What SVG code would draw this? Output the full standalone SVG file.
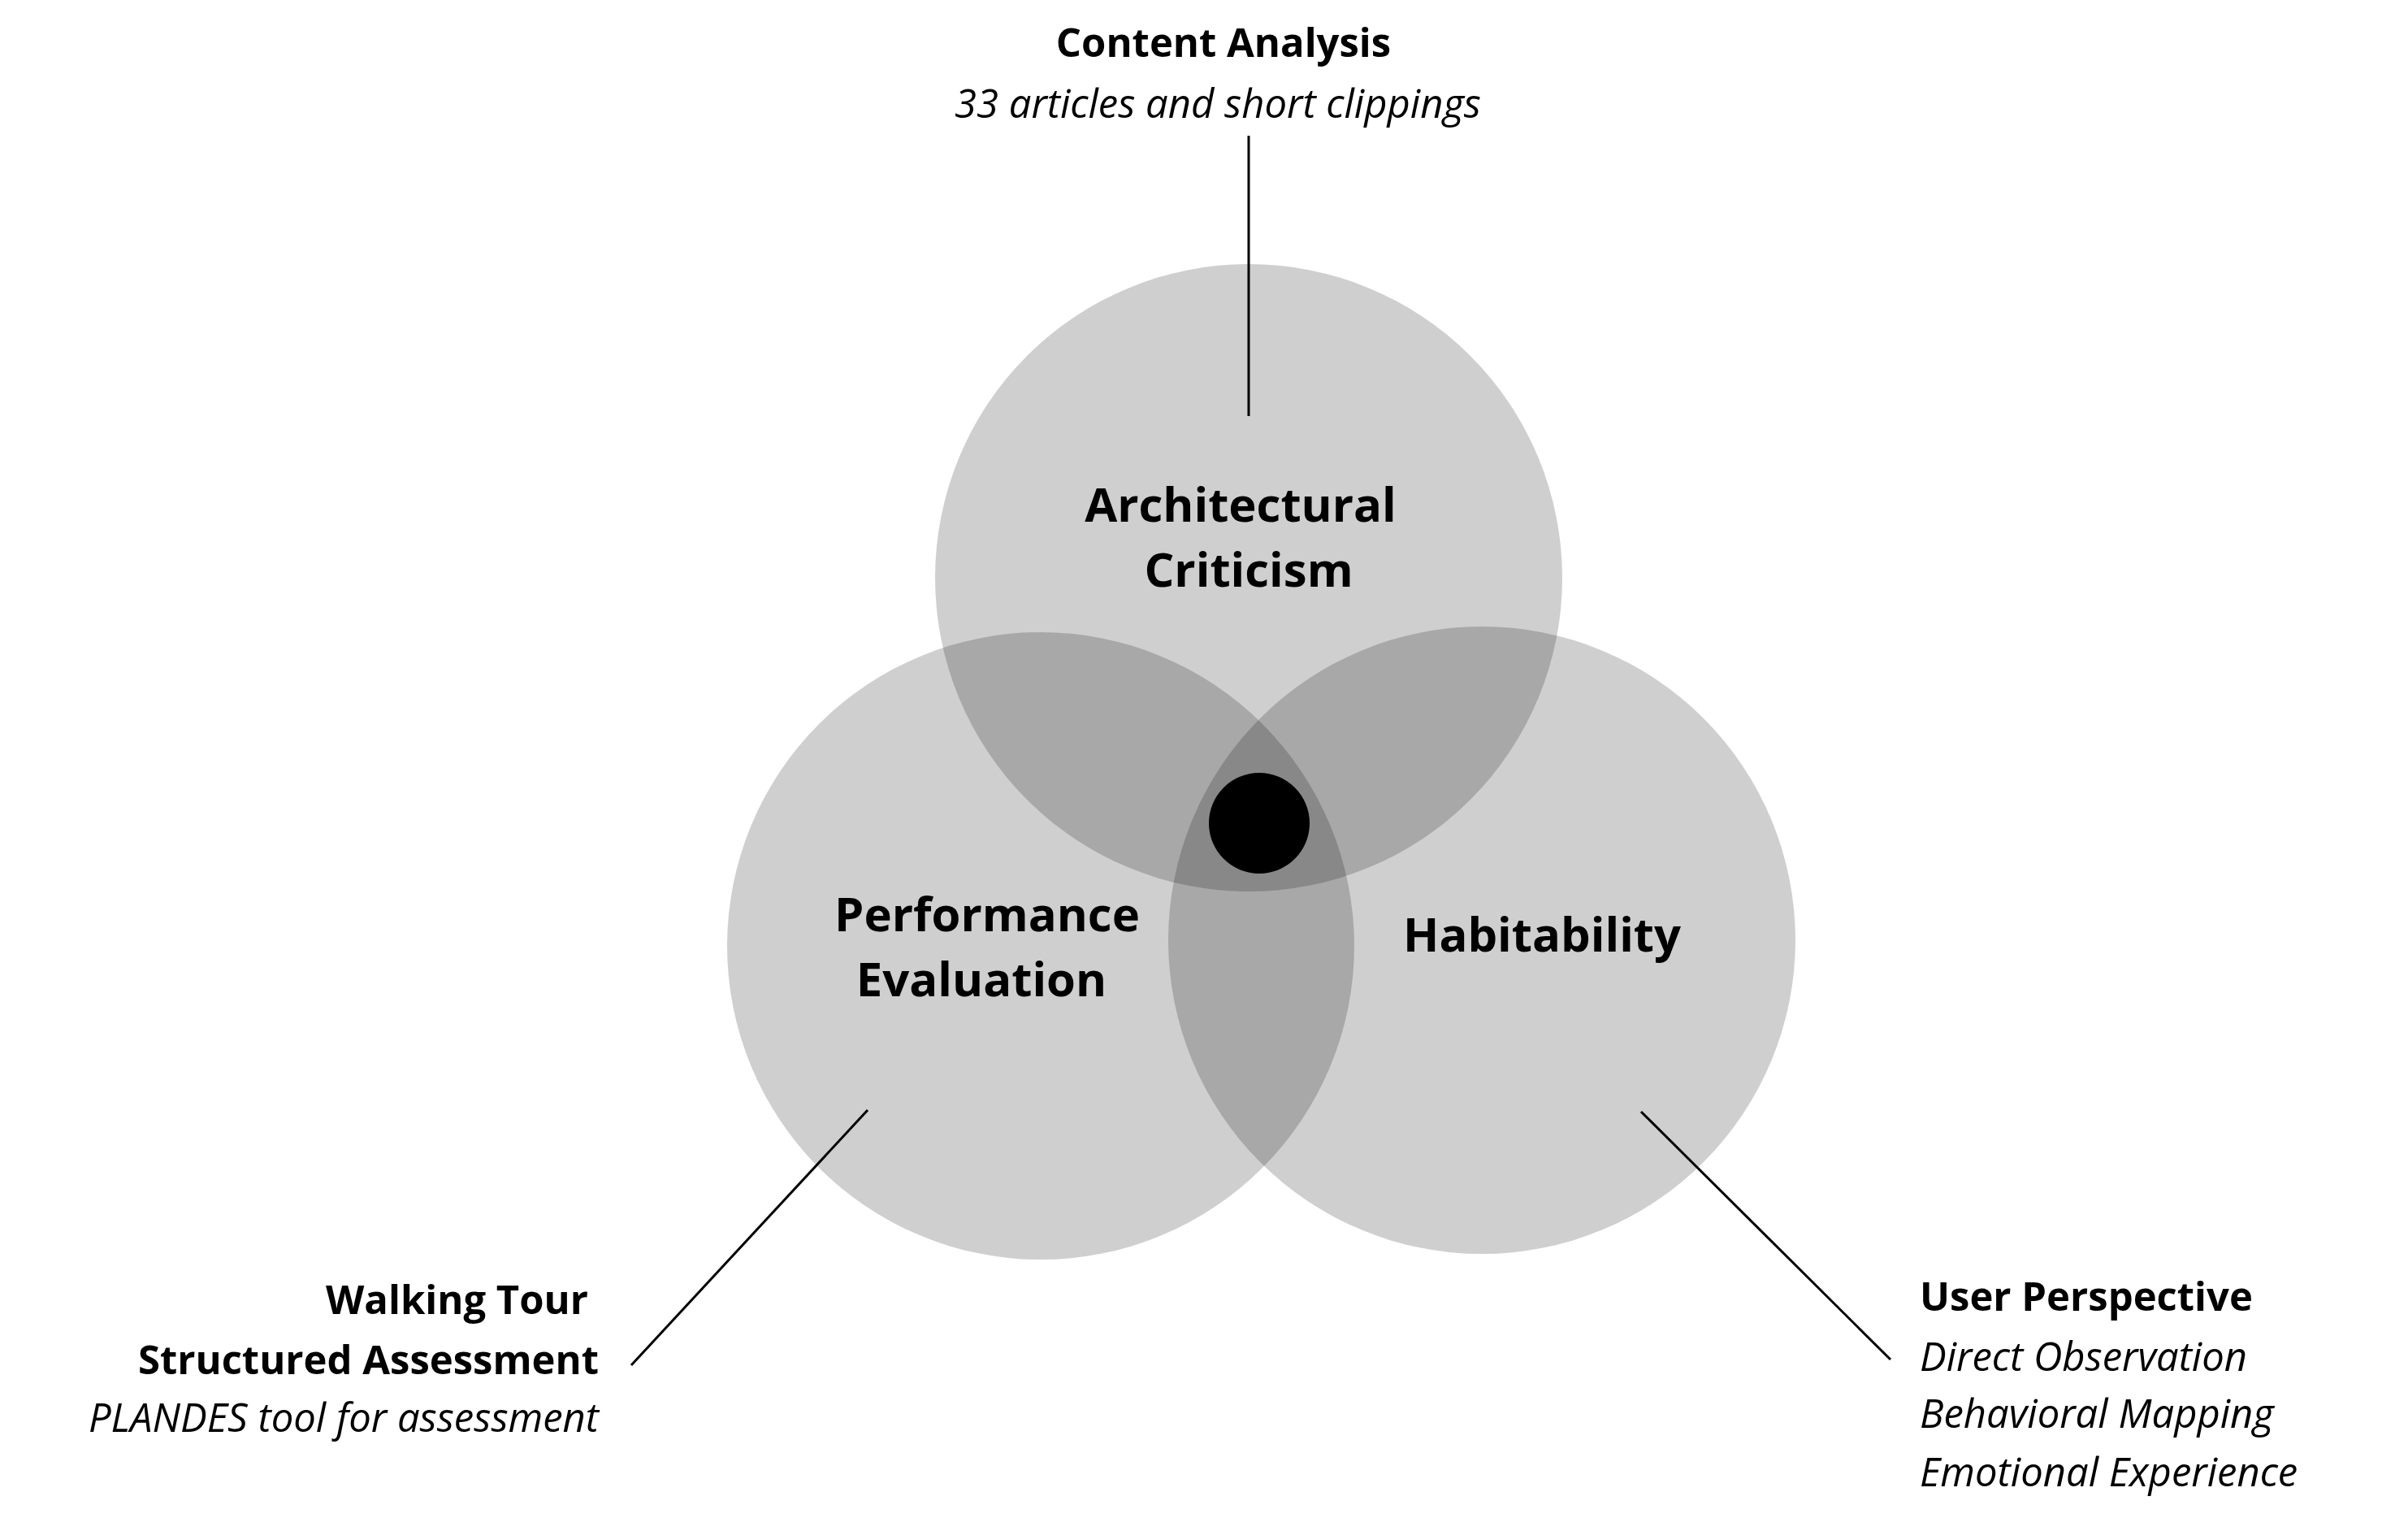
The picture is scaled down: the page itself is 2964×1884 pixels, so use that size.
<svg xmlns="http://www.w3.org/2000/svg" width="2964" height="1884" viewBox="0 0 2964 1884">
<style>
.c{fill:#000;fill-opacity:0.19}
.t{font-family:"Open Sans","Noto Sans",sans-serif;fill:#000}
.b{font-weight:bold}
.big{font-size:58px;text-anchor:middle;font-weight:bold}
.s{font-size:49px}
.i{font-style:italic}
.ln{stroke:#000;stroke-width:3;fill:none}
</style>
<rect width="2964" height="1884" fill="#fff"/>
<g id="criticism"><circle class="c" cx="1537" cy="711" r="386"/><text class="t big" x="1527" y="642">Architectural</text><text class="t big" x="1537" y="722">Criticism</text></g>
<g id="performance"><circle class="c" cx="1281" cy="1164" r="386"/><text class="t big" x="1215" y="1146">Performance</text><text class="t big" x="1208" y="1226">Evaluation</text></g>
<g id="habitability"><circle class="c" cx="1824" cy="1157" r="386"/><text class="t big" x="1898" y="1171">Habitability</text></g>
<g id="center"><circle cx="1550" cy="1013" r="62" fill="#000"/></g>
<g id="connectors">
<line class="ln" x1="1537" y1="167" x2="1537" y2="512"/>
<line class="ln" x1="1068" y1="1366" x2="777" y2="1680"/>
<line class="ln" x1="2020" y1="1368" x2="2327" y2="1673"/>
</g>
<g id="content"><text class="t s b" x="1506" y="70" text-anchor="middle">Content Analysis</text><text class="t s i" x="1499" y="145" text-anchor="middle">33 articles and short clippings</text></g>
<g id="walking"><text class="t s b" x="724" y="1617" text-anchor="end">Walking Tour</text><text class="t s b" x="737" y="1691" text-anchor="end">Structured Assessment</text><text class="t s i" x="737" y="1762" text-anchor="end">PLANDES tool for assessment</text></g>
<g id="user"><text class="t s b" x="2363" y="1613">User Perspective</text><text class="t s i" x="2363" y="1687">Direct Observation</text><text class="t s i" x="2363" y="1757">Behavioral Mapping</text><text class="t s i" x="2363" y="1829">Emotional Experience</text></g>
</svg>
